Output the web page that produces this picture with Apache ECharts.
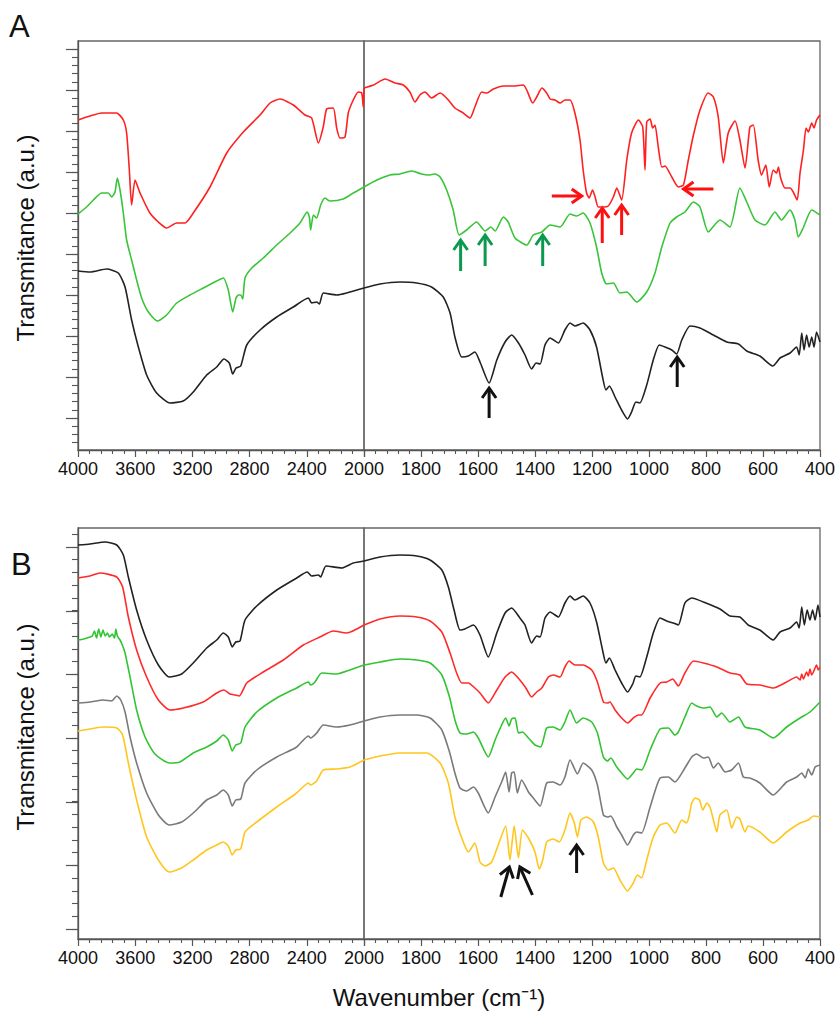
<!DOCTYPE html>
<html>
<head>
<meta charset="utf-8">
<script src="https://cdn.jsdelivr.net/npm/echarts@6/dist/echarts.min.js"></script>
<style>
html,body{margin:0;padding:0;background:#fff;}
#chart{width:838px;height:1011px;}
</style>
</head>
<body>
<div id="chart"></div>
<script>
// ---------- DATA: [wavenumber (cm-1), transmittance (a.u.)] ----------
const A_red = [[4000,330],[3916,334],[3834,337],[3730,337],[3683,330],[3660,317],[3641,280],[3625,245],[3601,270],[3566,257],[3497,237],[3438,228],[3380,222],[3310,227],[3252,227],[3194,237],[3077,263],[2960,297],[2844,318],[2727,335],[2657,347],[2587,351],[2494,345],[2413,335],[2366,332],[2319,307],[2285,323],[2261,341],[2215,342],[2191,322],[2168,312],[2133,313],[2110,337],[2075,350],[2040,358],[2016,357],[2005,343],[2000,362],
[1967,365],[1926,371],[1891,367],[1862,365],[1839,358],[1821,348],[1804,355],[1786,358],[1763,352],[1733,357],[1704,350],[1681,342],[1652,337],[1628,332],[1611,343],[1587,358],[1569,357],[1546,361],[1511,364],[1476,364],[1441,365],[1429,360],[1408,347],[1394,353],[1376,362],[1359,357],[1347,351],[1330,350],[1312,347],[1295,350],[1277,350],[1260,337],[1242,310],[1231,280],[1219,257],[1210,252],[1198,260],[1189,253],[1178,243],[1160,243],[1143,244],[1125,253],[1113,262],[1096,250],[1078,290],[1061,317],[1037,330],[1022,323],[1014,280],[1008,328],[996,331],[987,322],[979,325],[967,302],[955,283],[944,284],[920,273],[897,263],[879,265],[862,290],[844,315],[821,340],[792,357],[774,353],[757,333],[739,287],[722,317],[698,329],[681,310],[663,282],[646,323],[634,325],[617,290],[605,275],[590,285],[578,263],[564,280],[552,277],[546,283],[538,272],[523,262],[505,262],[494,258],[480,250],[470,277],[458,300],[449,322],[441,318],[429,327],[421,322],[412,330],[400,335]];

const A_green = [[4000,236],[3940,243],[3893,250],[3834,257],[3788,257],[3764,253],[3741,258],[3725,272],[3706,260],[3683,237],[3660,210],[3625,190],[3590,170],[3555,152],[3508,138],[3445,129],[3380,135],[3310,147],[3217,155],[3124,162],[3030,169],[2984,172],[2949,160],[2918,138],[2895,152],[2879,155],[2862,155],[2848,151],[2832,172],[2785,182],[2704,192],[2610,205],[2517,217],[2448,227],[2397,238],[2382,233],[2373,220],[2354,235],[2331,232],[2303,245],[2273,252],[2238,249],[2145,251],[2075,257],[2000,263],
[1955,270],[1909,275],[1874,276],[1833,279],[1798,276],[1774,275],[1751,276],[1733,273],[1710,260],[1687,240],[1666,215],[1640,220],[1605,228],[1575,219],[1555,223],[1540,219],[1511,233],[1494,228],[1470,212],[1429,205],[1406,215],[1376,218],[1347,225],[1312,223],[1277,236],[1254,234],[1231,237],[1207,227],[1184,203],[1166,177],[1149,166],[1125,167],[1102,157],[1078,158],[1043,148],[1008,158],[979,177],[955,203],[926,227],[903,233],[874,238],[844,248],[821,243],[792,218],[751,230],[716,223],[681,262],[657,248],[628,230],[593,225],[558,238],[535,230],[505,240],[488,230],[476,213],[459,222],[429,240],[400,235]];

const A_black = [[4000,179],[3916,178],[3799,181],[3718,177],[3671,163],[3625,130],[3578,103],[3520,75],[3450,57],[3357,47],[3264,49],[3194,58],[3100,75],[3030,83],[2979,91],[2942,87],[2918,76],[2895,82],[2862,84],[2820,105],[2727,120],[2610,133],[2494,143],[2389,152],[2366,147],[2331,148],[2312,146],[2285,157],[2191,155],[2121,157],[2000,162],
[1944,166],[1874,168],[1815,167],[1763,163],[1722,153],[1698,137],[1681,113],[1657,93],[1634,94],[1611,98],[1593,88],[1561,67],[1534,90],[1505,108],[1482,115],[1458,107],[1435,95],[1412,81],[1396,87],[1382,86],[1365,105],[1347,112],[1318,107],[1295,120],[1277,127],[1260,124],[1231,127],[1207,120],[1184,103],[1163,73],[1151,60],[1139,64],[1119,53],[1096,40],[1075,31],[1061,38],[1046,48],[1032,47],[1008,65],[985,90],[964,105],[944,103],[920,100],[903,96],[885,110],[856,124],[821,122],[774,115],[727,108],[686,106],[657,99],[611,94],[566,84],[540,92],[505,97],[482,103],[473,95],[464,117],[456,100],[447,115],[438,103],[429,113],[421,103],[412,118],[400,108]];

const B_black = [[4000,394],[3916,395],[3811,397],[3729,394],[3683,384],[3648,362],[3590,329],[3520,299],[3438,274],[3362,262],[3275,265],[3194,276],[3100,291],[3030,299],[2984,306],[2949,302],[2921,292],[2897,297],[2867,298],[2832,319],[2750,333],[2610,349],[2471,361],[2397,367],[2366,363],[2319,364],[2303,362],[2266,373],[2156,371],[2075,376],[2000,378],
[1944,382],[1874,384],[1815,383],[1768,379],[1727,369],[1704,352],[1684,329],[1663,309],[1646,310],[1616,314],[1593,304],[1564,282],[1534,306],[1505,326],[1482,331],[1453,321],[1435,314],[1412,296],[1394,303],[1382,302],[1365,321],[1347,327],[1318,322],[1295,336],[1277,343],[1260,339],[1231,343],[1207,336],[1184,317],[1163,289],[1151,276],[1139,281],[1119,269],[1096,256],[1075,247],[1057,255],[1046,263],[1032,262],[1008,282],[985,306],[961,321],[938,318],[915,316],[897,314],[874,336],[850,341],[809,337],[751,330],[716,323],[681,322],[652,314],[611,309],[564,299],[540,307],[505,311],[482,317],[473,311],[464,332],[455,314],[445,329],[435,319],[426,329],[417,319],[407,334],[400,322]];

const B_red = [[4000,361],[3916,363],[3846,366],[3729,362],[3688,352],[3648,322],[3590,289],[3520,262],[3438,239],[3357,229],[3264,231],[3124,237],[3030,246],[2979,249],[2937,245],[2902,244],[2872,243],[2820,256],[2704,267],[2564,279],[2424,294],[2308,302],[2215,308],[2121,306],[2000,314],
[1944,320],[1874,323],[1815,322],[1768,318],[1727,307],[1698,286],[1675,266],[1657,256],[1634,256],[1611,251],[1593,246],[1564,236],[1534,249],[1505,262],[1482,267],[1453,259],[1432,251],[1412,242],[1394,247],[1376,251],[1353,262],[1336,264],[1312,262],[1295,272],[1280,278],[1260,274],[1231,274],[1201,269],[1181,257],[1160,237],[1146,236],[1137,237],[1119,229],[1096,221],[1075,216],[1055,221],[1037,224],[1026,224],[996,241],[961,256],[938,257],[917,260],[897,253],[874,266],[844,278],[809,276],[762,272],[716,266],[681,264],[657,255],[611,254],[564,251],[517,257],[482,262],[470,259],[464,265],[458,260],[447,267],[441,263],[435,270],[429,264],[423,267],[412,274],[406,269],[400,272]];

const B_green = [[4000,299],[3960,300],[3916,302],[3900,303],[3885,308],[3870,301],[3855,310],[3840,302],[3825,309],[3810,303],[3795,306],[3780,302],[3760,305],[3745,301],[3735,310],[3725,303],[3706,299],[3690,294],[3671,286],[3636,262],[3590,229],[3531,202],[3462,185],[3362,176],[3287,177],[3194,186],[3100,192],[3030,198],[2984,204],[2949,199],[2921,188],[2897,194],[2862,196],[2832,212],[2750,227],[2610,241],[2471,251],[2389,257],[2373,254],[2343,257],[2296,266],[2191,265],[2098,269],[2000,274],
[1944,277],[1874,280],[1815,279],[1768,276],[1727,264],[1700,242],[1681,219],[1663,206],[1640,205],[1616,207],[1599,201],[1564,182],[1540,199],[1517,214],[1503,221],[1491,213],[1482,220],[1470,221],[1458,206],[1444,207],[1423,201],[1400,194],[1380,192],[1359,211],[1336,212],[1312,209],[1295,217],[1277,229],[1254,216],[1231,221],[1201,217],[1181,206],[1160,182],[1146,178],[1134,181],[1113,172],[1096,166],[1075,160],[1055,166],[1043,170],[1026,169],[996,189],[961,210],[932,211],[909,204],[897,207],[874,222],[850,236],[833,233],[809,231],[786,232],[762,222],[745,226],[716,217],[686,222],[663,212],[611,209],[564,201],[517,212],[470,221],[435,227],[400,237]];

const B_gray = [[4000,236],[3916,237],[3823,239],[3764,238],[3729,243],[3701,239],[3671,227],[3636,202],[3590,176],[3520,146],[3438,124],[3362,114],[3275,117],[3194,126],[3100,139],[3030,144],[2984,149],[2949,144],[2921,133],[2897,139],[2862,140],[2832,156],[2750,169],[2610,182],[2471,192],[2389,203],[2373,201],[2331,206],[2285,214],[2191,212],[2098,214],[2000,218],
[1944,222],[1874,224],[1815,224],[1768,221],[1727,209],[1700,187],[1681,166],[1663,151],[1640,148],[1616,152],[1599,146],[1564,126],[1540,142],[1517,157],[1503,167],[1491,147],[1482,166],[1473,167],[1462,146],[1447,159],[1423,147],[1406,141],[1382,133],[1359,156],[1336,157],[1312,154],[1295,162],[1277,179],[1251,165],[1231,176],[1201,169],[1181,154],[1160,124],[1146,122],[1134,123],[1113,112],[1096,104],[1075,94],[1055,104],[1043,107],[1026,106],[996,132],[961,161],[932,162],[909,157],[874,171],[850,182],[833,185],[809,181],[792,182],[774,171],[757,176],[733,167],[710,169],[686,176],[669,162],[646,161],[611,156],[564,144],[517,157],[482,162],[464,166],[452,161],[441,170],[429,164],[417,172],[400,174]];

const B_yellow = [[4000,208],[3916,210],[3823,212],[3729,211],[3688,204],[3648,176],[3590,139],[3520,102],[3438,79],[3362,67],[3275,71],[3194,79],[3100,89],[3030,94],[2984,97],[2949,93],[2921,84],[2897,89],[2862,90],[2832,107],[2750,117],[2610,132],[2471,146],[2389,156],[2373,154],[2331,158],[2285,169],[2191,170],[2098,172],[2000,179],
[1944,183],[1874,186],[1780,186],[1733,176],[1704,156],[1681,122],[1657,101],[1634,87],[1611,96],[1593,77],[1575,73],[1552,77],[1529,94],[1503,113],[1488,79],[1473,113],[1458,81],[1444,109],[1423,101],[1400,87],[1385,70],[1373,79],[1359,97],[1336,100],[1315,97],[1295,109],[1277,126],[1262,116],[1251,102],[1239,119],[1219,122],[1195,117],[1178,102],[1160,76],[1143,69],[1125,71],[1102,59],[1075,48],[1055,56],[1041,64],[1026,61],[1008,79],[985,102],[961,114],[938,116],[909,106],[885,119],[868,116],[859,123],[850,136],[838,141],[823,139],[811,129],[797,136],[786,132],[774,119],[762,107],[751,124],[727,129],[710,111],[692,122],[681,120],[663,107],[652,113],[611,107],[564,96],[517,107],[470,116],[441,119],[423,123],[400,122]];

// Annotation arrows: [tail wavenumber, tail value, head wavenumber, head value]
const A_arrowsRed = [[1341,254,1236,254],[1164,207,1164,242],[1096,215,1096,245],[774,261,879,261]];
const A_arrowsGreen = [[1661,179,1661,210],[1575,184,1575,215],[1373,184,1373,215]];
const A_arrowsBlack = [[1561,32,1561,62],[901,63,901,93]];
const B_arrowsBlack = [[1520,42,1490,72],[1409,44,1453,72],[1254,66,1254,94]];

// Axis ticks
const xTicksLeft = [4000,3600,3200,2800,2400,2000];
const xTicksRight = [1800,1600,1400,1200,1000,800,600,400];
const yMajorA = [32,73,114,155,196,237,278,319,360,401];
const yMajorB = [10,74,137,201,265,328,392];
const yMaxA = 409, yMaxB = 411;

const panelLabels = ['A','B'];
const yTitle = 'Transmitance (a.u.)';
const xTitle = 'Wavenumber (cm\u207B\u00B9)';

// ---------- helpers ----------
function minorFrom(major, max){
  const step = (major[major.length-1]-major[0])/(major.length-1)/5;
  const out = [];
  for (let v = major[0]; v >= 0; v -= step) out.push(+v.toFixed(2));
  for (let v = major[0]+step; v <= max+0.5; v += step) out.push(+v.toFixed(2));
  return out;
}
const leftPart = d => d.filter(p => p[0] >= 2000);
const rightPart = d => d.filter(p => p[0] <= 2000);

const FONT = 'Liberation Sans, Arial, Helvetica, sans-serif';
const AX = '#555';

const gridBox = {show:true, borderColor:'#666', borderWidth:1.3, backgroundColor:'transparent'};
const grids = [
  Object.assign({left:78, top:41, width:286, height:409}, gridBox),
  Object.assign({left:364, top:41, width:456, height:409}, gridBox),
  Object.assign({left:78, top:528, width:286, height:411}, gridBox),
  Object.assign({left:364, top:528, width:456, height:411}, gridBox)
];

function xAxisLeft(gi){
  return {type:'value', gridIndex:gi, inverse:true, min:2000, max:4000, interval:400,
    axisLine:{show:true, onZero:false, lineStyle:{color:AX, width:1.3}},
    axisTick:{show:true, length:7, lineStyle:{color:AX, width:1.2}},
    minorTick:{show:true, splitNumber:5, length:4, lineStyle:{color:AX, width:1.1}},
    splitLine:{show:false}, minorSplitLine:{show:false},
    axisLabel:{show:true, fontSize:18, fontFamily:FONT, color:'#111', margin:10, showMinLabel:true, showMaxLabel:true,
      formatter: v => xTicksLeft.includes(v) ? String(v) : ''}};
}
function xAxisRight(gi){
  return {type:'value', gridIndex:gi, inverse:true, min:400, max:2000, interval:200,
    axisLine:{show:true, onZero:false, lineStyle:{color:AX, width:1.3}},
    axisTick:{show:true, length:7, lineStyle:{color:AX, width:1.2}},
    minorTick:{show:true, splitNumber:5, length:4, lineStyle:{color:AX, width:1.1}},
    splitLine:{show:false}, minorSplitLine:{show:false},
    axisLabel:{show:true, fontSize:18, fontFamily:FONT, color:'#111', margin:10, showMinLabel:true, showMaxLabel:true,
      formatter: v => xTicksRight.includes(v) ? String(v) : ''}};
}
function yMajor(gi, max, ticks){
  return {type:'value', gridIndex:gi, min:0, max:max, position:'left',
    axisLine:{show:true, lineStyle:{color:AX, width:1.3}},
    axisTick:{show:true, length:12, customValues:ticks, lineStyle:{color:AX, width:1.2}},
    axisLabel:{show:false}, splitLine:{show:false}};
}
function yMinor(gi, max, ticks){
  return {type:'value', gridIndex:gi, min:0, max:max, position:'left', offset:0,
    axisLine:{show:false},
    axisTick:{show:true, length:6, customValues:minorFrom(ticks, max), lineStyle:{color:AX, width:1.1}},
    axisLabel:{show:false}, splitLine:{show:false}};
}
function yHidden(gi, max){
  return {type:'value', gridIndex:gi, min:0, max:max, show:false, splitLine:{show:false}};
}

const xAxes = [xAxisLeft(0), xAxisRight(1), xAxisLeft(2), xAxisRight(3)];
const yAxes = [yMajor(0,yMaxA,yMajorA), yMinor(0,yMaxA,yMajorA), yHidden(1,yMaxA),
               yMajor(2,yMaxB,yMajorB), yMinor(2,yMaxB,yMajorB), yHidden(3,yMaxB)];

const series = [];
function addSpectrum(data, color, panel){
  const xl = panel === 0 ? 0 : 2, xr = panel === 0 ? 1 : 3;
  const yl = panel === 0 ? 0 : 3, yr = panel === 0 ? 2 : 5;
  const common = {type:'line', showSymbol:false, symbol:'none', animation:false, smooth:0.2,
    lineStyle:{color:color, width:1.6}, itemStyle:{color:color}, silent:true};
  series.push(Object.assign({xAxisIndex:xl, yAxisIndex:yl, data:leftPart(data)}, common));
  series.push(Object.assign({xAxisIndex:xr, yAxisIndex:yr, data:rightPart(data)}, common));
}
addSpectrum(A_black, '#222222', 0);
addSpectrum(A_green, '#3ac43a', 0);
addSpectrum(A_red, '#ff2020', 0);
addSpectrum(B_yellow, '#ffc61e', 1);
addSpectrum(B_gray, '#7a7a7a', 1);
addSpectrum(B_green, '#33c433', 1);
addSpectrum(B_red, '#ff2a2a', 1);
addSpectrum(B_black, '#222222', 1);

function arrowSeries(data, color, xi, yi){
  return {type:'custom', xAxisIndex:xi, yAxisIndex:yi, data:data, silent:true, animation:false, clip:false,
    encode:{x:[0,2], y:[1,3]},
    renderItem:function(params, api){
      const p0 = api.coord([api.value(0), api.value(1)]);
      const p1 = api.coord([api.value(2), api.value(3)]);
      const dx = p1[0]-p0[0], dy = p1[1]-p0[1];
      const len = Math.hypot(dx, dy) || 1;
      const ux = dx/len, uy = dy/len, hl = 10, hw = 7;
      const b1 = [p1[0]-ux*hl - uy*hw, p1[1]-uy*hl + ux*hw];
      const b2 = [p1[0]-ux*hl + uy*hw, p1[1]-uy*hl - ux*hw];
      return {type:'group', children:[
        {type:'line', shape:{x1:p0[0], y1:p0[1], x2:p1[0]-ux*1.5, y2:p1[1]-uy*1.5}, style:{stroke:color, lineWidth:3, fill:null}},
        {type:'polyline', shape:{points:[b1, p1, b2]}, style:{stroke:color, lineWidth:3, fill:null, lineJoin:'miter'}}
      ]};
    }};
}
series.push(arrowSeries(A_arrowsRed, '#ff1010', 1, 2));
series.push(arrowSeries(A_arrowsGreen, '#0a9a4e', 1, 2));
series.push(arrowSeries(A_arrowsBlack, '#111111', 1, 2));
series.push(arrowSeries(B_arrowsBlack, '#111111', 3, 5));

const graphics = [
  {type:'text', left:9, top:11, style:{text:panelLabels[0], font:'31px '+FONT, fill:'#111'}},
  {type:'text', left:11, top:549, style:{text:panelLabels[1], font:'31px '+FONT, fill:'#111'}},
  {type:'text', x:25, y:238, rotation:Math.PI/2, style:{text:yTitle, font:'24px '+FONT, fill:'#111', textAlign:'center', textVerticalAlign:'middle'}},
  {type:'text', x:25, y:727, rotation:Math.PI/2, style:{text:yTitle, font:'24px '+FONT, fill:'#111', textAlign:'center', textVerticalAlign:'middle'}},
  {type:'text', x:439, y:997, style:{text:xTitle, font:'24px '+FONT, fill:'#111', textAlign:'center', textVerticalAlign:'middle'}}
];

const chart = echarts.init(document.getElementById('chart'), null, {renderer:'svg', width:838, height:1011});
chart.setOption({
  animation:false,
  backgroundColor:'#ffffff',
  grid:grids,
  xAxis:xAxes,
  yAxis:yAxes,
  series:series,
  graphic:graphics
});
</script>
</body>
</html>
